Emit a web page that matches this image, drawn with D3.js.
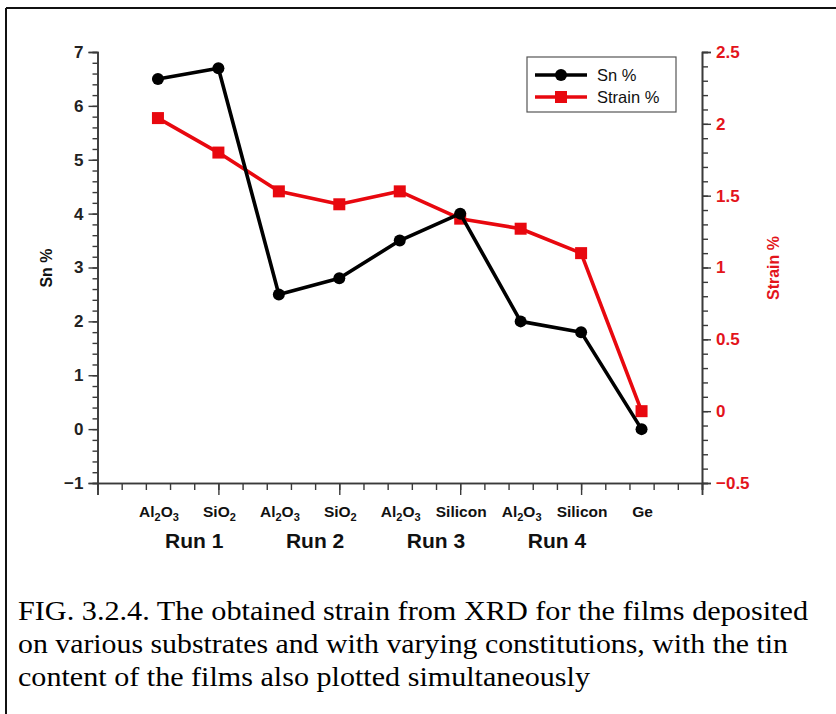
<!DOCTYPE html>
<html>
<head>
<meta charset="utf-8">
<script src="https://cdn.jsdelivr.net/npm/d3@7"></script>
<style>
  html, body { margin: 0; padding: 0; background: #fff; }
  svg { display: block; }
  text { font-family: "Liberation Sans", Arial, Helvetica, sans-serif; }
  text.caption { font-family: "Liberation Serif", "Times New Roman", serif; }
</style>
</head>
<body>
<svg id="chart" width="836" height="714"></svg>
<script>
// Substrates (x categories), grouped into deposition runs
const categories = ["Al2O3", "SiO2", "Al2O3", "SiO2", "Al2O3", "Silicon", "Al2O3", "Silicon", "Ge"];
const runs = ["Run 1", "Run 2", "Run 3", "Run 4"];
const runCenters = [0.6, 2.6, 4.6, 6.6];

// Tin content of the films (left axis)
const snPercent = [6.5, 6.7, 2.5, 2.8, 3.5, 4.0, 2.0, 1.8, 0.0];
// Strain from XRD (right axis)
const strainPercent = [2.04, 1.80, 1.53, 1.44, 1.53, 1.34, 1.27, 1.10, 0.0];

const snTicks = [-1, 0, 1, 2, 3, 4, 5, 6, 7];
const strainTicks = [-0.5, 0, 0.5, 1, 1.5, 2, 2.5];

const captionLines = [
  "FIG. 3.2.4. The obtained strain from XRD for the films deposited",
  "on various substrates and with varying constitutions, with the tin",
  "content of the films also plotted simultaneously"
];

const svg = d3.select("#chart");

// page frame
svg.append("line").attr("x1", 6).attr("x2", 836).attr("y1", 8).attr("y2", 8)
  .attr("stroke", "#111").attr("stroke-width", 2);
svg.append("line").attr("x1", 6).attr("x2", 6).attr("y1", 8).attr("y2", 714)
  .attr("stroke", "#111").attr("stroke-width", 2);

const x = d3.scaleLinear().domain([-1, 9]).range([97.5, 702]);
const yL = d3.scaleLinear().domain([-1, 7]).range([483, 52]);
const yR = d3.scaleLinear().domain([-0.5, 2.5]).range([483, 52]);

const axisColor = "#3a3a3a";
function styleAxis(g) {
  g.selectAll(".domain").attr("stroke", axisColor).attr("stroke-width", 1.6);
  g.selectAll(".tick line").attr("stroke", axisColor).attr("stroke-width", 1.4);
}

// left axis: minor then major
const gLm = svg.append("g").attr("transform", `translate(${x(-1)},0)`)
  .call(d3.axisLeft(yL).tickValues(d3.range(-1, 7.001, 0.2)).tickSize(5).tickFormat(""));
styleAxis(gLm);
const gL = svg.append("g").attr("transform", `translate(${x(-1)},0)`)
  .call(d3.axisLeft(yL).tickValues(snTicks).tickSize(9).tickPadding(5).tickFormat(d => d < 0 ? "\u22121" : d));
styleAxis(gL);
gL.selectAll(".tick text").attr("font-size", 17).attr("font-weight", "bold").attr("fill", "#222")
  .style("font-family", "'Liberation Sans', Arial, sans-serif");

// right axis
const gRm = svg.append("g").attr("transform", `translate(${x(9)},0)`)
  .call(d3.axisRight(yR).tickValues(d3.range(-0.5, 2.5001, 0.1)).tickSize(6).tickFormat(""));
styleAxis(gRm);
const gR = svg.append("g").attr("transform", `translate(${x(9)},0)`)
  .call(d3.axisRight(yR).tickValues(strainTicks).tickSize(9).tickPadding(5)
    .tickFormat(d => d < 0 ? "\u2212" + Math.abs(d) : d));
styleAxis(gR);
gR.selectAll(".tick text").attr("font-size", 17).attr("font-weight", "bold").attr("fill", "#e3141b")
  .style("font-family", "'Liberation Sans', Arial, sans-serif");

// bottom axis
const gBm = svg.append("g").attr("transform", `translate(0,${yL(-1)})`)
  .call(d3.axisBottom(x).tickValues(d3.range(-1, 9.001, 0.4)).tickSize(7).tickFormat(""));
styleAxis(gBm);
const gB = svg.append("g").attr("transform", `translate(0,${yL(-1)})`)
  .call(d3.axisBottom(x).tickValues(d3.range(-1, 9.001, 2)).tickSize(12).tickFormat(""));
styleAxis(gB);

// category labels with numeric subscripts
categories.forEach((c, i) => {
  const t = svg.append("text")
    .attr("x", x(i) + 1).attr("y", 517)
    .attr("text-anchor", "middle")
    .attr("font-size", 15.5).attr("font-weight", "bold").attr("fill", "#111");
  const parts = c.match(/[A-Za-z]+|\d+/g);
  let sub = false;
  parts.forEach(p => {
    if (/\d/.test(p)) {
      t.append("tspan").attr("font-size", 11).attr("dy", 4).text(p);
      sub = true;
    } else {
      t.append("tspan").attr("dy", sub ? -4 : 0).text(p);
      sub = false;
    }
  });
});

// run labels
svg.selectAll(".run").data(runs).enter().append("text")
  .attr("x", (d, i) => x(runCenters[i])).attr("y", 548)
  .attr("text-anchor", "middle")
  .attr("font-size", 21).attr("font-weight", "bold").attr("fill", "#111")
  .text(d => d);

// axis titles
svg.append("text").attr("transform", `translate(52,268) rotate(-90)`)
  .attr("text-anchor", "middle").attr("font-size", 16).attr("font-weight", "bold").attr("fill", "#111")
  .text("Sn %");
svg.append("text").attr("transform", `translate(779,268) rotate(-90)`)
  .attr("text-anchor", "middle").attr("font-size", 16).attr("font-weight", "bold").attr("fill", "#e3141b")
  .text("Strain %");

// series
const red = "#e8080f";
const lineSn = d3.line().x((d, i) => x(i)).y(d => yL(d));
const lineStrain = d3.line().x((d, i) => x(i)).y(d => yR(d));

svg.append("path").datum(strainPercent).attr("d", lineStrain)
  .attr("fill", "none").attr("stroke", red).attr("stroke-width", 3.6).attr("stroke-linejoin", "round");
svg.selectAll(".sq").data(strainPercent).enter().append("rect")
  .attr("x", (d, i) => x(i) - 6).attr("y", d => yR(d) - 6)
  .attr("width", 12).attr("height", 12).attr("fill", red);

svg.append("path").datum(snPercent).attr("d", lineSn)
  .attr("fill", "none").attr("stroke", "#000").attr("stroke-width", 3.6).attr("stroke-linejoin", "round");
svg.selectAll(".dot").data(snPercent).enter().append("circle")
  .attr("cx", (d, i) => x(i)).attr("cy", d => yL(d)).attr("r", 6).attr("fill", "#000");

// legend
const lg = svg.append("g");
lg.append("rect").attr("x", 527).attr("y", 57).attr("width", 149).attr("height", 55)
  .attr("fill", "#fff").attr("stroke", "#555").attr("stroke-width", 1.2);
lg.append("line").attr("x1", 535).attr("x2", 587).attr("y1", 75).attr("y2", 75)
  .attr("stroke", "#000").attr("stroke-width", 3.6);
lg.append("circle").attr("cx", 561).attr("cy", 75).attr("r", 6).attr("fill", "#000");
lg.append("line").attr("x1", 535).attr("x2", 587).attr("y1", 97).attr("y2", 97)
  .attr("stroke", red).attr("stroke-width", 3.6);
lg.append("rect").attr("x", 555).attr("y", 91).attr("width", 12).attr("height", 12).attr("fill", red);
lg.append("text").attr("x", 597).attr("y", 81).attr("font-size", 16.5).attr("fill", "#111").text("Sn %");
lg.append("text").attr("x", 597).attr("y", 103).attr("font-size", 16.5).attr("fill", "#111").text("Strain %");

// caption
const capWidths = [790, 770, 572];
captionLines.forEach((s, i) => {
  svg.append("text").attr("class", "caption").attr("x", 18).attr("y", 620 + i * 33)
    .attr("font-size", 27.5).attr("fill", "#000")
    .attr("textLength", capWidths[i]).attr("lengthAdjust", "spacingAndGlyphs")
    .text(s);
});
</script>
</body>
</html>
